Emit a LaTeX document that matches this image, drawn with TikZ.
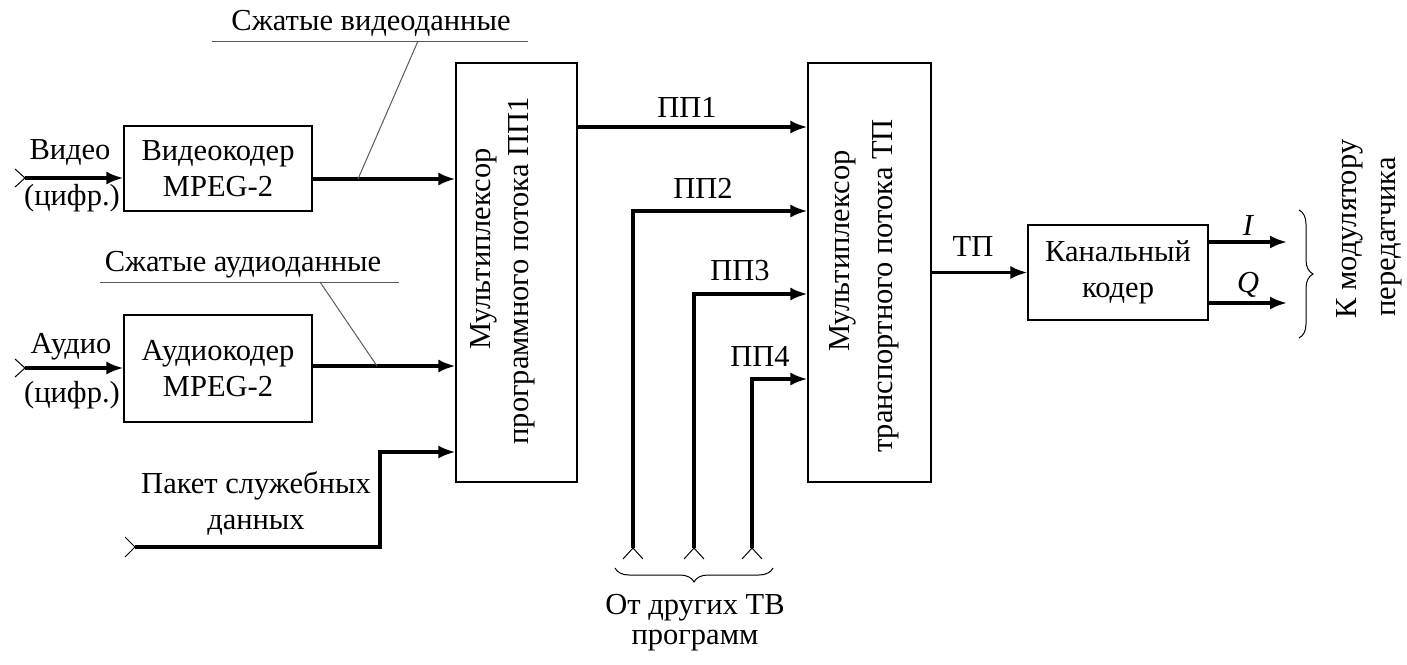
\documentclass[tikz,border=0pt]{standalone}
\usepackage{fontspec}
\setmainfont{Liberation Serif}
\newfontfamily\tnr{Liberation Serif}
\usetikzlibrary{arrows.meta,decorations.pathreplacing}
\begin{document}
\begin{tikzpicture}[x=1pt,y=-1pt,
  every node/.style={font=\tnr\fontsize{30.5}{36}\selectfont, inner sep=0pt},
  blk/.style={draw, line width=1.1pt},
  sig/.style={line width=3.2pt, -{Latex[length=17pt,width=13pt]}},
  lead/.style={line width=1pt, draw=black!65},
  opn/.style={line width=1pt},
  txt/.style={align=center},
  rtxt/.style={align=center, rotate=90},
  brc/.style={decorate, decoration={brace, amplitude=14pt}, line width=1pt}]
\useasboundingbox (0,0) rectangle (1407,664);

% blocks
\node[blk, txt, minimum width=188pt, minimum height=85pt] (vc) at (218,168.5) {Видеокодер\\MPEG-2};
\node[blk, txt, minimum width=188pt, minimum height=107pt] (ac) at (218,368.5) {Аудиокодер\\MPEG-2};
\node[blk, minimum width=121pt, minimum height=419pt] (m1) at (516.5,272.5) {};
\node[blk, minimum width=123pt, minimum height=419pt] (m2) at (869.5,272.5) {};
\node[blk, txt, minimum width=180pt, minimum height=95pt] (cc) at (1118,272.5) {Канальный\\кодер};

% multiplexer texts
\node[rtxt] (m1a) at (484,249) {Мультиплексор};
\node[rtxt] (m1b) at (522,271) {программного потока ПП1};
\node[rtxt] (m2a) at (843,251) {Мультиплексор};
\node[rtxt] (m2b) at (886,286) {транспортного потока ТП};

% video input
\coordinate (vin) at (25,178);
\draw[sig] (vin) -- (vin -| vc.west);
\draw[opn] (vin) ++(-10,-9) -- (vin) -- ++(-10,9);
\node (lv1) at (70,152) {Видео};
\node (lv2) at (72,198) {(цифр.)};

% audio input
\coordinate (ain) at (25,368);
\draw[sig] (ain) -- (ain -| ac.west);
\draw[opn] (ain) ++(-10,-9) -- (ain) -- ++(-10,9);
\node (la1) at (71,347) {Аудио};
\node (la2) at (72,395) {(цифр.)};

% coder outputs
\coordinate (vo) at (312,179);
\draw[sig] (vo) -- (vo -| m1.west);
\coordinate (ao) at (312,366);
\draw[sig] (ao) -- (ao -| m1.west);

% compressed data labels
\node (lvd) at (371,23) {Сжатые видеоданные};
\coordinate (vul) at (212,41);
\coordinate (vur) at (528,41);
\coordinate (vlk) at (418,41);
\coordinate (vlt) at (358,179);
\draw[lead] (vul) -- (vur);
\draw[lead] (vlk) -- (vlt);

\node (lad) at (243,265) {Сжатые аудиоданные};
\coordinate (aul) at (100,282);
\coordinate (aur) at (399,282);
\coordinate (alk) at (320,282);
\coordinate (alt) at (377,366);
\draw[lead] (aul) -- (aur);
\draw[lead] (alk) -- (alt);

% service packet
\coordinate (pk) at (135,547);
\coordinate (pkc) at (380,452);
\draw[sig] (pk) -| (pkc) -- (pkc -| m1.west);
\draw[opn] (pk) ++(-10,-10) -- (pk) -- ++(-10,10);
\node[txt] (lpk) at (256,503.5) {Пакет служебных\\данных};

% program streams
\coordinate (p1) at (577,127);
\draw[sig] (p1) -- (p1 -| m2.west);
\node (lp1) at (687,107) {ПП1};

\coordinate (p2) at (633,548);
\coordinate (p2t) at (633,211);
\draw[sig] (p2) -- (p2t) -- (p2t -| m2.west);
\draw[opn] (p2) ++(-10,11) -- (p2) -- ++(10,11);
\node (lp2) at (703,188) {ПП2};

\coordinate (p3) at (694,548);
\coordinate (p3t) at (694,294);
\draw[sig] (p3) -- (p3t) -- (p3t -| m2.west);
\draw[opn] (p3) ++(-10,11) -- (p3) -- ++(10,11);
\node (lp3) at (740,271) {ПП3};

\coordinate (p4) at (752,548);
\coordinate (p4t) at (752,379);
\draw[sig] (p4) -- (p4t) -- (p4t -| m2.west);
\draw[opn] (p4) ++(-10,11) -- (p4) -- ++(10,11);
\node (lp4) at (760,356) {ПП4};

\coordinate (bbr) at (773,568);
\coordinate (bbl) at (615,568);
\draw[brc] (bbr) -- (bbl);
\node (lo1) at (695,608) {От других ТВ};
\node (lo2) at (695,641) {программ};

% transport stream
\draw[sig] (m2.east) -- (cc.west);
\node (ltp) at (973,247) {ТП};

% I / Q outputs
\coordinate (io) at (1208,242);
\coordinate (ie) at (1287,242);
\draw[sig] (io) -- (ie);
\node (li) at (1248,226) {\itshape I};
\coordinate (qo) at (1208,303);
\coordinate (qe) at (1287,303);
\draw[sig] (qo) -- (qe);
\node (lq) at (1248,285) {\itshape Q};

\coordinate (rbt) at (1299,210);
\coordinate (rbb) at (1299,338);
\draw[brc] (rbt) -- (rbb);
\node[rtxt] (lm1) at (1350,229) {К модулятору};
\node[rtxt] (lm2) at (1392,237) {передатчика};
\end{tikzpicture}
\end{document}
